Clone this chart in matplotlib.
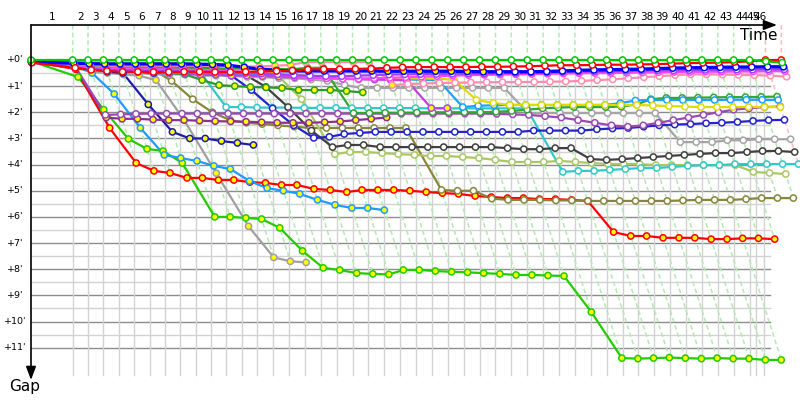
import numpy as np
import matplotlib.pyplot as plt

# leader lap durations in minutes (lap 1 includes the start)
lap_minutes = [5.02, 1.85, 1.86, 1.85, 1.85, 1.86, 1.85, 1.85, 1.86, 1.85, 1.85, 1.86, 1.85,
               1.91, 1.92, 1.91, 1.91, 1.92, 1.91, 1.91, 1.92, 1.91, 1.91, 1.92, 1.91,
               1.91, 1.92, 1.91, 1.91, 1.92, 1.91, 1.91, 1.92, 1.91, 1.91, 1.92, 1.91,
               1.91, 1.92, 1.91, 1.91, 1.92, 1.91, 1.91, 1.92, 1.91]
extra_marks = [87.35, 88.31]
lap_labels = [str(i) for i in range(1, 47)]
gap_ticks = list(range(0, 12))

# gap to leader (minutes), one value per lap starting at lap 0
gap_leader = [0, 0, 0, 0, 0, 0, 0, 0, 0, 0,
              0, 0, 0, 0, 0, 0, 0, 0, 0, 0,
              0, 0, 0, 0, 0, 0, 0, 0, 0, 0,
              0, 0, 0, 0, 0, 0, 0, 0, 0, 0,
              0, 0, 0, 0, 0, 0.05, 0.1]
gap_red = [0.1, 0.3, 0.38, 0.42, 0.45, 0.45, 0.46, 0.46, 0.45, 0.45,
           0.46, 0.46, 0.45, 0.44, 0.42, 0.4, 0.36, 0.35, 0.35, 0.34,
           0.33, 0.3, 0.28, 0.27, 0.27, 0.27, 0.27, 0.26, 0.26, 0.25,
           0.24, 0.22, 0.2, 0.2, 0.19, 0.18, 0.18, 0.17, 0.16, 0.14,
           0.12, 0.11, 0.1, 0.08, 0.05, 0.0, 0.0]
gap_blue = [0.08, 0.12, 0.14, 0.15, 0.15, 0.15, 0.15, 0.15, 0.15, 0.16,
            0.17, 0.2, 0.28, 0.35, 0.4, 0.42, 0.42, 0.42, 0.42, 0.42,
            0.42, 0.43, 0.43, 0.43, 0.43, 0.43, 0.44, 0.45, 0.45, 0.45,
            0.45, 0.44, 0.42, 0.4, 0.38, 0.37, 0.36, 0.35, 0.33, 0.31,
            0.3, 0.29, 0.28, 0.27, 0.27, 0.26, 0.26]
gap_violet = [0.1, 0.3, 0.35, 0.38, 0.4, 0.4, 0.42, 0.42, 0.44, 0.45,
              0.46, 0.48, 0.5, 0.52, 0.55, 0.58, 0.6, 0.62, 0.62, 0.6,
              0.58, 0.56, 0.55, 0.54, 0.54, 0.53, 0.52, 0.52, 0.5, 0.5,
              0.48, 0.47, 0.46, 0.45, 0.44, 0.43, 0.42, 0.41, 0.4, 0.4,
              0.39, 0.38, 0.38, 0.37, 0.37, 0.36, 0.36]
gap_magenta = [0.1, 0.25, 0.3, 0.32, 0.33, 0.34, 0.35, 0.36, 0.37, 0.38,
               0.4, 0.42, 0.45, 0.5, 0.55, 0.62, 0.66, 0.7, 0.72, 0.72,
               0.7, 0.68, 0.66, 0.64, 0.62, 0.6, 0.58, 0.57, 0.56, 0.55,
               0.54, 0.53, 0.52, 0.51, 0.5, 0.5, 0.49, 0.48, 0.47, 0.46,
               0.46, 0.45, 0.45, 0.44, 0.44, 0.43, 0.43]
gap_pink = [0.05, 0.15, 0.2, 0.22, 0.22, 0.22, 0.22, 0.22, 0.22, 0.22,
            0.22, 0.24, 0.25, 0.25, 0.22, 0.19, 0.08, 0.08, 0.08, 0.08,
            0.08, 0.96, 0.92, 0.9, 0.88, 0.87, 0.86, 0.85, 0.85, 0.84,
            0.84, 0.83, 0.82, 0.8, 0.77, 0.74, 0.7, 0.66, 0.62, 0.58,
            0.55, 0.55, 0.56, 0.57, 0.58, 0.6, 0.64]
gap_yellow = [0.05, 0.08, 0.08, 0.08, 0.08, 0.1, 0.1, 0.1, 0.12, 0.14,
              0.17, 0.22, 0.3, 0.4, 0.5, 0.55, 0.6, 0.65, 0.68, 0.7,
              0.7, 0.7, 0.7, 0.7, 0.72, 0.75, 1.53, 1.64, 1.72, 1.72,
              1.72, 1.72, 1.72, 1.72, 1.72, 1.72, 1.72, 1.74, 1.76, 1.78,
              1.8, 1.8, 1.8, 1.8, 1.8, 1.8]
gap_mag_y = [0.05, 0.3, 0.35, 0.4, 0.4, 0.45, 0.45, 0.5, 0.5, 0.55,
             0.55, 0.6, 0.6, 0.62, 0.64, 0.66, 0.68, 0.7, 0.72, 0.74,
             0.75, 0.76, 0.78, 1.84, 1.84]
gap_dkgreen_y = [0.05, 0.3, 0.35, 0.38, 0.4, 0.42, 0.45, 0.5, 0.55, 0.77,
                 0.96, 1.0, 1.03, 1.05, 1.07, 1.15, 1.15, 1.15, 1.19, 1.24]
gap_dkgreen = [0.05, 0.2, 0.25, 0.28, 0.3, 0.3, 0.3, 0.3, 0.32, 0.32,
               0.32, 0.33, 0.33, 0.34, 0.34, 0.35, 0.3, 0.3, 2.03, 2.03,
               2.02, 2.02, 2.01, 2.0, 2.0, 2.0, 2.0, 1.98, 1.95, 1.9,
               1.85, 1.82, 1.8, 1.8, 1.8, 1.78, 1.7, 1.5, 1.45, 1.45,
               1.44, 1.43, 1.42, 1.42, 1.41, 1.4]
gap_ltblue = [0.05, 0.2, 0.3, 0.35, 0.4, 0.42, 0.45, 0.48, 0.5, 0.5,
              0.52, 0.55, 0.55, 0.57, 0.6, 0.6, 0.62, 0.64, 0.66, 0.68,
              0.7, 0.72, 0.74, 0.76, 0.77, 1.8, 1.75, 1.73, 1.72, 1.72,
              1.72, 1.72, 1.72, 1.72, 1.72, 1.65, 1.55, 1.53, 1.53, 1.53,
              1.53, 1.53, 1.52, 1.52, 1.52, 1.53]
gap_gray = [0.05, 0.3, 0.4, 0.45, 0.5, 0.5, 0.55, 0.55, 0.55, 0.6,
            0.6, 0.6, 0.65, 0.65, 0.7, 0.7, 0.75, 0.8, 0.95, 1.07,
            1.07, 1.07, 1.07, 1.07, 1.07, 1.07, 1.07, 1.07, 1.07, 2.03,
            2.03, 2.03, 2.03, 2.03, 2.03, 2.03, 2.03, 2.03, 3.14, 3.14,
            3.14, 3.07, 3.07, 3.03, 3.03, 3.03]
gap_black = [0.05, 0.2, 0.25, 0.25, 0.27, 0.27, 0.27, 0.27, 0.27, 0.27,
             0.3, 0.4, 0.6, 1.03, 1.8, 2.7, 3.33, 3.25, 3.25, 3.33,
             3.33, 3.33, 3.33, 3.33, 3.33, 3.33, 3.33, 3.37, 3.41, 3.41,
             3.37, 3.37, 3.79, 3.82, 3.79, 3.75, 3.71, 3.67, 3.63, 3.59,
             3.56, 3.56, 3.52, 3.48, 3.48, 3.52]
gap_navy = [0.05, 0.25, 0.35, 0.4, 0.45, 0.45, 0.5, 0.5, 0.5, 0.55,
            0.55, 0.6, 1.15, 1.85, 2.5, 2.98, 2.94, 2.83, 2.79, 2.75,
            2.75, 2.75, 2.75, 2.75, 2.75, 2.75, 2.75, 2.75, 2.75, 2.7,
            2.7, 2.7, 2.7, 2.65, 2.62, 2.6, 2.55, 2.5, 2.47, 2.45,
            2.42, 2.4, 2.37, 2.33, 2.3, 2.29]
gap_cyan = [0.05, 0.2, 0.25, 0.3, 0.3, 0.3, 0.3, 0.35, 0.35, 0.4,
            1.8, 1.8, 1.82, 1.82, 1.82, 1.83, 1.83, 1.83, 1.84, 1.84,
            1.84, 1.84, 1.84, 1.85, 1.85, 1.85, 1.85, 1.85, 1.85, 1.85,
            4.28, 4.24, 4.24, 4.2, 4.17, 4.13, 4.13, 4.09, 4.05, 4.02,
            4.02, 3.98, 3.98, 3.98, 3.98, 3.98]
gap_ltolive = [0.05, 0.3, 0.35, 0.4, 0.4, 0.45, 0.45, 0.45, 0.5, 0.5,
               0.5, 0.5, 0.55, 0.55, 0.6, 1.5, 3.6, 3.52, 3.52, 3.56,
               3.6, 3.63, 3.67, 3.67, 3.71, 3.75, 3.82, 3.9, 3.9, 3.9,
               3.86, 3.9, 3.94, 3.98, 3.98, 3.98, 4.02, 4.02, 4.02, 4.02,
               4.02, 4.02, 4.28, 4.32, 4.36]
gap_olive = [0.05, 0.25, 0.3, 0.3, 0.3, 0.32, 0.35, 0.8, 1.5, 2.0,
             2.3, 2.4, 2.45, 2.5, 2.55, 2.6, 2.6, 2.6, 2.6, 2.6,
             2.6, 2.6, 4.97, 5.0, 5.0, 5.3, 5.35, 5.35, 5.35, 5.37,
             5.37, 5.39, 5.39, 5.39, 5.39, 5.39, 5.39, 5.37, 5.35, 5.35,
             5.35, 5.32, 5.28, 5.28, 5.28]
gap_red_y = [0.05, 0.35, 2.6, 3.94, 4.24, 4.32, 4.51, 4.51, 4.59, 4.59,
             4.67, 4.7, 4.78, 4.78, 4.93, 4.97, 5.05, 4.97, 4.97, 4.97,
             5.0, 5.05, 5.09, 5.12, 5.2, 5.24, 5.28, 5.28, 5.32, 5.32,
             5.35, 5.39, 6.58, 6.73, 6.73, 6.8, 6.8, 6.8, 6.85, 6.85,
             6.82, 6.82, 6.85]
gap_green_y = [0.05, 0.65, 1.9, 3.02, 3.4, 3.48, 3.94, 6.0, 6.0, 6.04,
               6.08, 6.42, 7.3, 7.95, 8.03, 8.15, 8.18, 8.2, 8.03, 8.03,
               8.07, 8.1, 8.12, 8.15, 8.18, 8.22, 8.22, 8.24, 8.26, 9.64,
               11.4, 11.42, 11.4, 11.38, 11.4, 11.42, 11.4, 11.42, 11.42, 11.47,
               11.47]
gap_ltblue_y = [0.05, 0.2, 0.5, 1.3, 2.6, 3.63, 3.75, 3.86, 4.05, 4.17,
                4.63, 4.9, 5.0, 5.12, 5.35, 5.54, 5.66, 5.66, 5.74]
gap_navy_y = [0.05, 0.15, 0.3, 0.45, 0.5, 1.7, 2.75, 3.0, 3.0, 3.1, 3.17, 3.25]
gap_gray_y = [0.05, 0.3, 0.45, 0.5, 0.55, 0.6, 0.77, 2.28, 4.33, 6.36, 7.55, 7.7, 7.74]
gap_purple = [0.05, 0.2, 2.1, 2.08, 2.06, 2.05, 2.05, 2.05, 2.05, 2.05,
              2.05, 2.05, 2.05, 2.05, 2.05, 2.05, 2.05, 2.05, 2.05, 2.05,
              2.05, 2.05, 2.05, 2.05, 2.05, 2.05, 2.05, 2.06, 2.08, 2.1,
              2.15, 2.2, 2.3, 2.4, 2.5, 2.55, 2.5, 2.4, 2.3, 2.2,
              2.1, 2.0, 1.9, 1.85, 1.8, 1.78]
gap_purple_y = [0.05, 0.25, 2.2, 2.25, 2.25, 2.28, 2.3, 2.3, 2.32, 2.34,
                2.35, 2.36, 2.38, 2.4, 2.4, 2.4, 2.38, 2.35, 2.3, 2.25, 2.2]

# (gaps, line colour, yellow-face markers up to this lap, line width)
series = [
    (gap_green_y, '#22cc00', 99, 1.6),
    (gap_red_y, '#ff0000', 99, 1.6),
    (gap_olive, '#87873c', -1, 1.6),
    (gap_ltolive, '#a9c864', -1, 1.6),
    (gap_cyan, '#33c8c8', -1, 1.6),
    (gap_black, '#404040', -1, 1.6),
    (gap_gray, '#a5a5a5', -1, 1.6),
    (gap_gray_y, '#a0a0a0', 99, 1.6),
    (gap_ltblue_y, '#1e9bff', 99, 1.6),
    (gap_navy_y, '#1c1ca8', 99, 1.6),
    (gap_navy, '#2424c8', -1, 1.6),
    (gap_purple_y, '#8c3090', 99, 1.6),
    (gap_purple, '#9c48b4', -1, 1.6),
    (gap_dkgreen_y, '#2a9a2a', 99, 1.6),
    (gap_dkgreen, '#30a830', -1, 1.6),
    (gap_ltblue, '#1ea0ff', -1, 1.6),
    (gap_yellow, '#e0dc00', 13, 1.6),
    (gap_mag_y, '#c040e0', 99, 1.6),
    (gap_pink, '#ff8cb0', 21, 1.6),
    (gap_magenta, '#ff44ff', -1, 1.6),
    (gap_violet, '#a040ff', -1, 1.6),
    (gap_blue, '#0000ff', 27, 2.4),
    (gap_red, '#ff0000', -1, 1.6),
    (gap_leader, '#00c800', -1, 1.6),
]

SX, SY = 8.3, 26.15          # pixels per minute on each axis
X0, Y0 = 31, 60              # pixel position of time 0 / gap 0


def px(x, y):
    return (x - X0) / SX, (y - Y0) / SY


lead_time = np.concatenate([[0.0], np.cumsum(lap_minutes)])
marks = list(lead_time[1:45]) + extra_marks

fig = plt.figure(figsize=(8, 4), dpi=100)
ax = fig.add_axes([0, 0, 1, 1])
ax.set_xlim(px(0, 0)[0], px(800, 0)[0])
ax.set_ylim(px(0, 400)[1], px(0, 0)[1])
ax.axis('off')

x_end = px(770, 0)[0]
y_top = px(0, 25)[1]
y_bot = px(0, 375)[1]

# horizontal grid
for g in np.arange(0.5, 11, 1.0):
    ax.plot([0, x_end], [g, g], color='#d2d2d2', lw=1, zorder=1)
for g in gap_ticks:
    ax.plot([0, x_end], [g, g], color='#8c8c8c', lw=1, zorder=1)
# vertical grid
for t in marks:
    ax.plot([t, t], [0, y_bot], color='#d2d2d2', lw=1, zorder=1)

# lap lines: every car crossing lap k lies on x = T_k + gap
all_gaps = [s[0] for s in series]
for k in range(1, 47):
    g_max = max([g[k] for g in all_gaps if len(g) > k])
    col = '#ffbcbc' if k >= 45 else '#b4e8b4'
    t = lead_time[k]
    ax.plot([t, t, t + g_max], [y_top, 0, g_max], color=col, lw=1.1,
            ls=(0, (3, 2)), zorder=2)

# cars
for gaps, col, yellow_to, lw in series:
    laps = np.arange(len(gaps))
    xs = lead_time[laps] + np.array(gaps)
    ys = np.array(gaps)
    ax.plot(xs, ys, color=col, lw=lw, zorder=3, solid_joinstyle='round')
    face = np.where(laps <= yellow_to, '#ffff00', 'white')
    ax.scatter(xs, ys, s=20, c=face, edgecolors=col, linewidths=1.1, zorder=4)

# axes with arrows
ax.annotate('', xy=px(777, 25), xytext=px(31, 25),
            arrowprops=dict(arrowstyle='-|>,head_length=0.8,head_width=0.3',
                            color='black', lw=1.2, shrinkA=0, shrinkB=0), zorder=6)
ax.annotate('', xy=px(31, 380), xytext=px(31, 25),
            arrowprops=dict(arrowstyle='-|>,head_length=0.8,head_width=0.3',
                            color='black', lw=1.2, shrinkA=0, shrinkB=0), zorder=6)
ax.text(*px(759, 36), 'Time', fontsize=11, ha='center', va='center')
ax.text(*px(25, 386), 'Gap', fontsize=11, ha='center', va='center')

# lap numbers centred in each lap interval
edges = [0.0] + marks
for i, lab in enumerate(lap_labels):
    xm = (edges[i] + edges[i + 1]) / 2
    ax.text(xm, px(0, 17)[1], lab, fontsize=7.5, ha='center', va='center')

for g in gap_ticks:
    ax.text(px(15, 0)[0], g, "+%d'" % g, fontsize=6.8, ha='center', va='center')

fig.savefig('out.png', dpi=100)
